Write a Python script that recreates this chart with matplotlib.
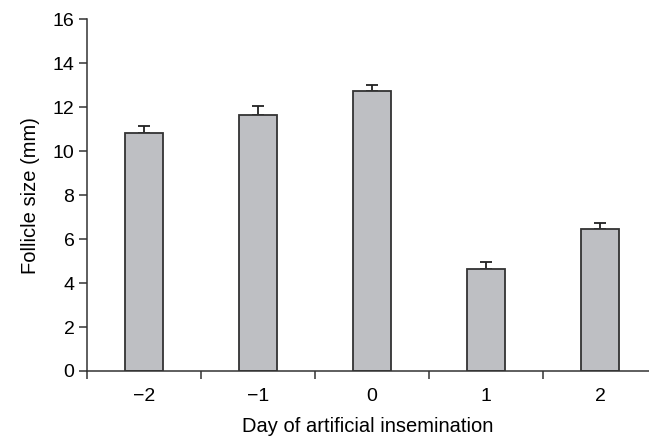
import numpy as np
import matplotlib
matplotlib.use("Agg")
import matplotlib.pyplot as plt

# Data
days = ["\u22122", "\u22121", "0", "1", "2"]
follicle_size = [10.82, 11.65, 12.73, 4.64, 6.47]
follicle_sem = [0.33, 0.40, 0.28, 0.31, 0.27]

plt.rcParams["font.family"] = ["Liberation Sans", "DejaVu Sans"]

fig = plt.figure(figsize=(6.49, 4.38), dpi=100)
ax = fig.add_axes([0.134, 0.153, 0.866, 0.803])

x = np.arange(len(days))
ax.bar(x, follicle_size, width=0.333, color="#bebfc3", edgecolor="#333333",
       linewidth=1.3, zorder=2)
# only the upper half of the error bar is shown
ax.errorbar(x, follicle_size, yerr=[np.zeros(len(days)), follicle_sem],
            fmt="none", ecolor="#222222", elinewidth=1.3, capsize=4.3,
            capthick=1.3, zorder=1)

ax.set_xlim(-0.5, 4.43)
ax.set_ylim(0, 16)
ax.set_yticks(np.arange(0, 17, 2))

# major ticks sit between categories, labels at the bar centres
ax.set_xticks(np.arange(len(days)) - 0.5)
ax.set_xticklabels([])
ax.set_xticks(x, minor=True)
ax.set_xticklabels(days, minor=True)
ax.tick_params(axis="x", which="minor", length=0, pad=12, labelsize=14)
ax.tick_params(axis="x", which="major", length=6, width=1.1, color="#333333")
ax.tick_params(axis="y", length=6, width=1.1, color="#333333", labelsize=14, pad=3)

for side in ["top", "right"]:
    ax.spines[side].set_visible(False)
for side in ["left", "bottom"]:
    ax.spines[side].set_linewidth(1.1)
    ax.spines[side].set_color("#333333")

ax.set_xlabel("Day of artificial insemination", fontsize=14.5, labelpad=9)
ax.set_ylabel("Follicle size (mm)", fontsize=14.5, labelpad=9)

fig.savefig("out.png", dpi=100)
